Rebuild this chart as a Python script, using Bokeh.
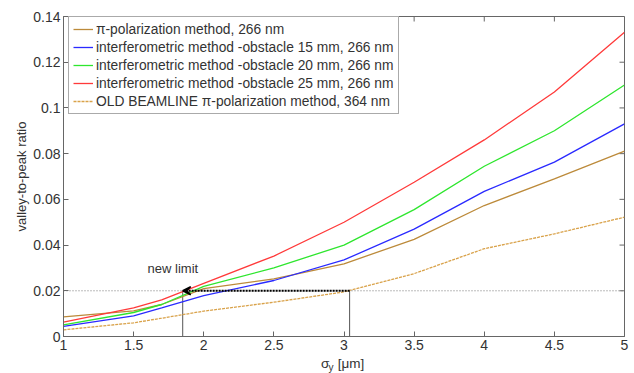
from bokeh.plotting import figure
from bokeh.layouts import column
from bokeh.models import (Legend, LegendItem, Label, Span, Arrow,
                          VeeHead, FixedTicker, Range1d)
from bokeh.core.properties import value
from bokeh.embed import file_html
from bokeh.resources import INLINE

# ---- data ----
sigma = [1.0, 1.5, 1.7, 2.0, 2.5, 3.0, 3.5, 4.0, 4.5, 5.0]
pi_pol_266 = [0.0086, 0.0112, 0.0140, 0.0209, 0.0252, 0.0318, 0.0425, 0.0573, 0.0690, 0.0811]
interf_15 = [0.0044, 0.0090, 0.0125, 0.0179, 0.0245, 0.0335, 0.0470, 0.0635, 0.0763, 0.0930]
interf_20 = [0.0051, 0.0105, 0.0140, 0.0219, 0.0300, 0.0400, 0.0555, 0.0745, 0.0900, 0.1100]
interf_25 = [0.0063, 0.0125, 0.0160, 0.0232, 0.0352, 0.0500, 0.0675, 0.0860, 0.1070, 0.1331]
old_pi_364 = [0.0029, 0.0060, 0.0080, 0.0111, 0.0150, 0.0195, 0.0275, 0.0384, 0.0449, 0.0522]

limit_level = 0.02
new_limit_x = 1.85
old_limit_x = 3.04

x_ticks = [1, 1.5, 2, 2.5, 3, 3.5, 4, 4.5, 5]
x_tick_labels = ["1", "1.5", "2", "2.5", "3", "3.5", "4", "4.5", "5"]
y_ticks = [0, 0.02, 0.04, 0.06, 0.08, 0.1, 0.12, 0.14]
y_tick_labels = ["0", "0.02", "0.04", "0.06", "0.08", "0.1", "0.12", "0.14"]

legend_labels = [
    "\u03c0-polarization method, 266 nm",
    "interferometric method -obstacle 15 mm, 266 nm",
    "interferometric method -obstacle 20 mm, 266 nm",
    "interferometric method -obstacle 25 mm, 266 nm",
    "OLD BEAMLINE \u03c0-polarization method, 364 nm",
]

FONT = "Liberation Sans"
AX = "#666666"
TXT = "#333333"
X0, X1, Y0, Y1 = 1, 5, 0, 0.14

p = figure(width=634, height=355, output_backend="svg", toolbar_location=None,
           x_range=Range1d(X0, X1), y_range=Range1d(Y0, Y1),
           min_border_left=63, min_border_right=10, min_border_top=16,
           min_border_bottom=19)
p.background_fill_color = "white"
p.border_fill_color = "white"
p.outline_line_color = AX
p.grid.visible = False

for ax, ticks, labels in ((p.xaxis[0], x_ticks, x_tick_labels),
                          (p.yaxis[0], y_ticks, y_tick_labels)):
    ax.ticker = FixedTicker(ticks=ticks)
    ax.major_label_overrides = {t: l for t, l in zip(ticks, labels)}
    ax.major_tick_in = 5
    ax.major_tick_out = 0
    ax.minor_tick_line_color = None
    ax.axis_line_color = AX
    ax.major_tick_line_color = AX
    ax.major_label_text_font = FONT
    ax.major_label_text_font_size = "14px"
    ax.major_label_text_color = TXT
    ax.major_label_standoff = 3

p.yaxis[0].axis_label = "valley-to-peak ratio"
p.yaxis[0].axis_label_text_font = FONT
p.yaxis[0].axis_label_text_font_size = "13px"
p.yaxis[0].axis_label_text_font_style = "normal"
p.yaxis[0].axis_label_text_color = TXT
p.yaxis[0].axis_label_standoff = 1

# box-style ticks on the top and right edges
tick_dx = (X1 - X0) * 5 / 561
tick_dy = (Y1 - Y0) * 5 / 320
p.segment(x0=x_ticks, y0=[Y1] * len(x_ticks), x1=x_ticks,
          y1=[Y1 - tick_dy] * len(x_ticks), line_color=AX, line_width=1)
p.segment(x0=[X1] * len(y_ticks), y0=y_ticks, x1=[X1 - tick_dx] * len(y_ticks),
          y1=y_ticks, line_color=AX, line_width=1)

# reference lines
p.add_layout(Span(location=limit_level, dimension="width", line_color="#777777",
                  line_width=1, line_dash="1 2"))
p.segment(x0=[new_limit_x, old_limit_x], y0=[0, 0], x1=[new_limit_x, old_limit_x],
          y1=[limit_level, limit_level], line_color="#555555", line_width=1)

colors = ["#BC8A3A", "#2A2AFF", "#2EE62E", "#FF3A3A", "#D9A24A"]
series = [pi_pol_266, interf_15, interf_20, interf_25, old_pi_364]
renderers = []
for i, (ys, c) in enumerate(zip(series, colors)):
    dash = "3 1" if i == 4 else "solid"
    r = p.line(sigma, ys, line_color=c, line_width=1.3, line_dash=dash)
    renderers.append(r)

# arrow old limit -> new limit
p.add_layout(Arrow(x_start=old_limit_x, y_start=limit_level, x_end=new_limit_x,
                   y_end=limit_level, line_color="black", line_width=2,
                   line_dash="2 1",
                   end=VeeHead(size=8, line_color="black", line_width=1.5,
                               fill_color="black")))

p.add_layout(Label(x=1.78, y=0.0297, text="new limit", text_font=FONT,
                   text_font_size="13px", text_color=TXT, text_align="center",
                   text_baseline="middle"))

legend = Legend(items=[LegendItem(label=l, renderers=[r])
                       for l, r in zip(legend_labels, renderers)],
                location=(5, 222), border_line_color="#555555",
                background_fill_color="white", background_fill_alpha=1,
                label_text_font=FONT, label_text_font_size="13.8px",
                label_text_color=TXT, glyph_width=20, glyph_height=16,
                label_height=16, spacing=2, padding=4, margin=0,
                label_standoff=3)
p.add_layout(legend, "center")

# x-axis title strip: sigma_y [um], sharing the x range of the main plot
strip = figure(width=634, height=18, output_backend="svg", toolbar_location=None,
               x_range=p.x_range, y_range=Range1d(0, 18),
               x_axis_type=None, y_axis_type=None,
               min_border_left=63, min_border_right=10, min_border_top=0,
               min_border_bottom=0)
strip.outline_line_color = None
strip.grid.visible = False
strip.background_fill_color = "white"
strip.border_fill_color = "white"
strip.text(x=[2.836, 2.955], y=[10.0, 10.0], text=["\u03c3", "[\u03bcm]"],
           text_font=value(FONT), text_font_size="13.5px", text_color=TXT,
           text_align="left", text_baseline="middle")
strip.text(x=[2.889], y=[6.0], text=["y"], text_font=value(FONT),
           text_font_size="10px", text_color=TXT, text_align="left",
           text_baseline="middle")

layout = column(p, strip, spacing=0)
open("out.html", "w").write(file_html(layout, INLINE))
